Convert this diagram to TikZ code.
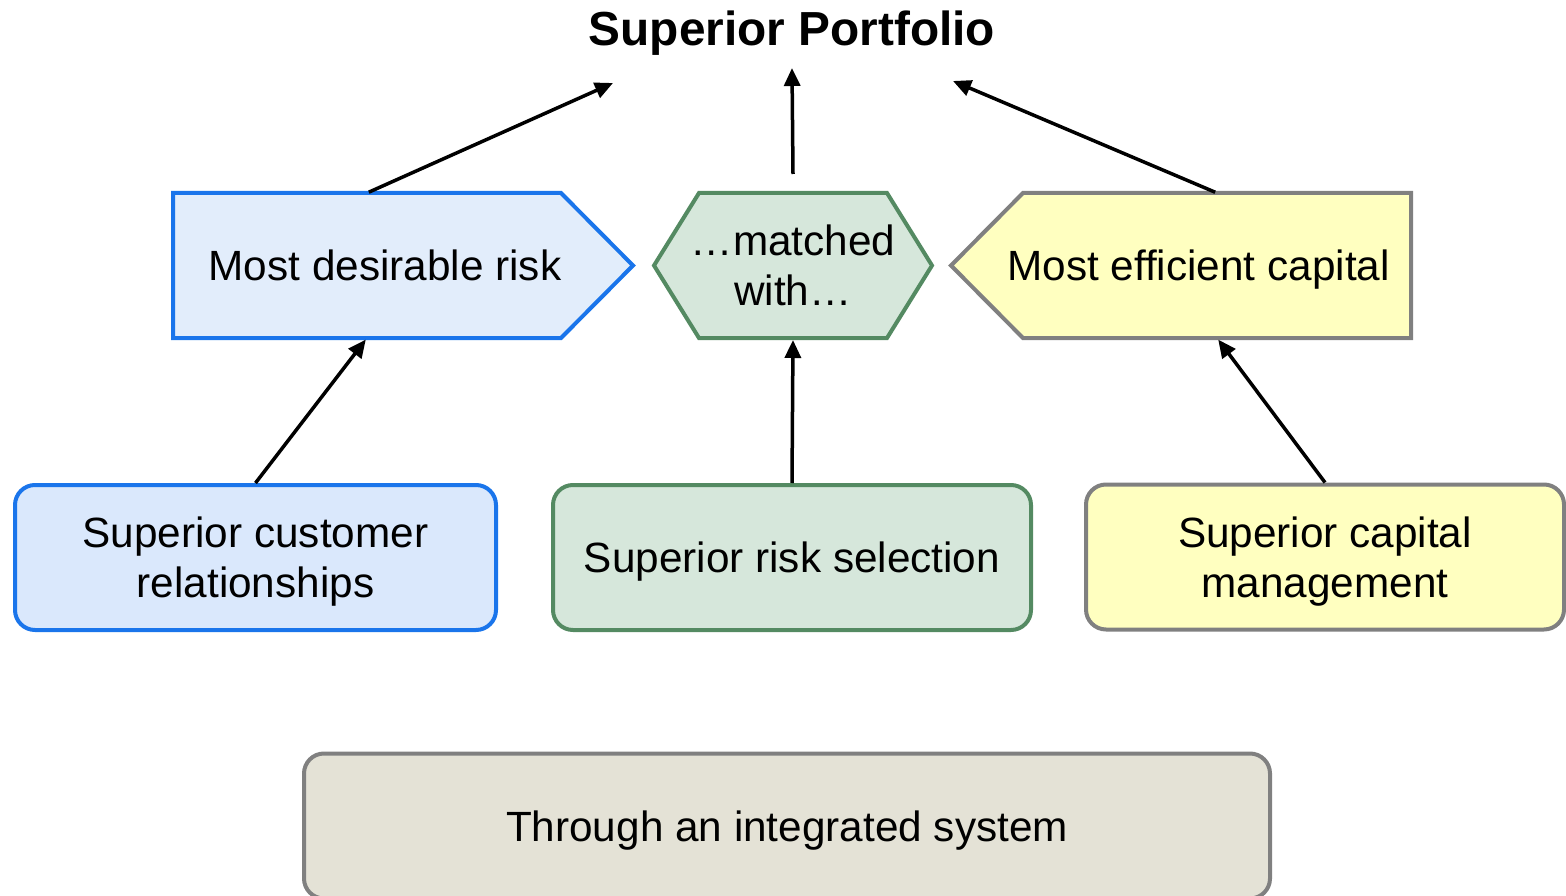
\documentclass[tikz,border=0pt]{standalone}
\usepackage{fontspec}
\setmainfont{Liberation Sans}
\usetikzlibrary{positioning,calc,backgrounds,arrows.meta}

\definecolor{blueedge}{HTML}{1A75EB}
\definecolor{riskfill}{HTML}{E2EDFB}
\definecolor{custfill}{HTML}{DAE8FC}
\definecolor{greenedge}{HTML}{548A62}
\definecolor{greenfill}{HTML}{D6E7DB}
\definecolor{grayedge}{HTML}{808080}
\definecolor{yellowfill}{HTML}{FFFFC0}
\definecolor{sysfill}{HTML}{E4E2D6}

\tikzstyle{line}=[draw, line width=3.5pt, -{Triangle[length=18pt,width=16pt]}]
\tikzstyle{txt}=[font=\fontsize{42.3}{50}\selectfont, align=center, inner sep=0pt, text depth=0pt]
\tikzstyle{flag}=[txt, outer sep=0pt, minimum height=145pt]
\tikzstyle{goal}=[txt, line width=4pt, rounded corners=20pt, minimum height=145pt]
\tikzstyle{head}=[font=\fontsize{47.8}{56}\selectfont\bfseries, anchor=base, inner sep=0pt]
\tikzstyle{edge}=[line width=4pt]

\begin{document}
\begin{tikzpicture}[x=1pt,y=-1pt]
    \useasboundingbox (0,0) rectangle (1566,896);
    \node[head] (port) at (792,46) {Superior Portfolio};
    \coordinate (tl) at (613,83);
    \coordinate (tm) at (792,68);
    \coordinate (tr) at (953,81);

    % middle row
    \node[flag, minimum width=460pt] (risk) at (403,265.5) {Most desirable risk\hspace*{36pt}};
    \node[flag, minimum width=278pt] (match) at (793,265.5) {…matched\\with…};
    \node[flag, minimum width=460pt] (fund) at (1181,265.5) {\hspace*{35pt}Most efficient capital};
    \begin{scope}[on background layer]
        \filldraw[edge, draw=blueedge, fill=riskfill] (risk.north west) -- ([xshift=-72pt]risk.north east) -- (risk.east) -- ([xshift=-72pt]risk.south east) -- (risk.south west) -- cycle;
        \filldraw[edge, draw=greenedge, fill=greenfill] ([xshift=45pt]match.north west) -- ([xshift=-45pt]match.north east) -- (match.east) -- ([xshift=-45pt]match.south east) -- ([xshift=45pt]match.south west) -- (match.west) -- cycle;
        \filldraw[edge, draw=grayedge, fill=yellowfill] ([xshift=72pt]fund.north west) -- (fund.north east) -- (fund.south east) -- ([xshift=72pt]fund.south west) -- (fund.west) -- cycle;
    \end{scope}

    % bottom row
    \node[goal, draw=blueedge, fill=custfill, minimum width=481pt] (cust) at (255.5,557.5) {Superior customer\\relationships};
    \node[goal, draw=greenedge, fill=greenfill, minimum width=478pt] (sel) at (792,557.5) {Superior risk selection};
    \node[goal, draw=grayedge, fill=yellowfill, minimum width=478pt] (cap) at (1325,557) {Superior capital\\management};
    \node[goal, draw=grayedge, fill=sysfill, minimum width=966pt] (sys) at (787,826) {Through an integrated system};

    \path[line, shorten <=2pt] ([xshift=-36pt]risk.north) -- (tl);
    \path[line] ([yshift=19pt]match.north) -- (tm);
    \path[line, shorten <=2pt] ([xshift=36pt]fund.north) -- (tr);
    \path[line, shorten >=2pt] (cust.north) -- ([xshift=-36pt]risk.south);
    \path[line, shorten >=2pt] (sel.north) -- (match.south);
    \path[line, shorten >=2pt] (cap.north) -- ([xshift=36pt]fund.south);
\end{tikzpicture}
\end{document}
